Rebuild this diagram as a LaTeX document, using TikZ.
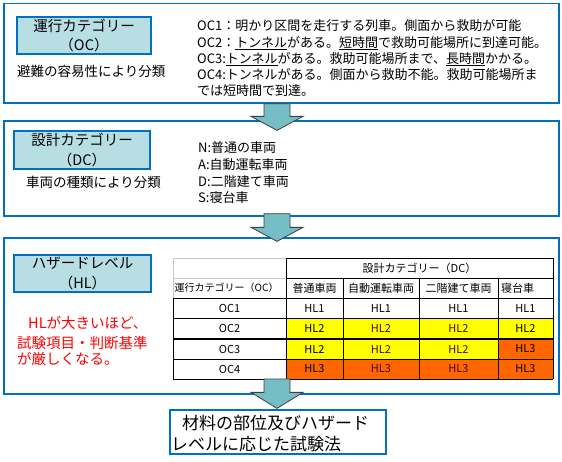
\documentclass[tikz,border=0pt]{standalone}
\usepackage{fontspec}
\setmainfont{Noto Sans CJK JP}
\usetikzlibrary{calc}
\definecolor{boxblue}{HTML}{0070C0}
\definecolor{labelfill}{HTML}{B7DEE3}
\definecolor{arrowfill}{HTML}{75BEC5}
\definecolor{arrowline}{HTML}{3F3F3F}
\definecolor{hlyellow}{HTML}{FFFF00}
\definecolor{hlorange}{HTML}{FF6600}
\definecolor{hlred}{HTML}{4A0808}
\newcommand\fatarrow[3]{%
  \path[fatarrowstyle] let \p1=(#1), \p2=(#2) in
    (\x1-13pt,\y1) -- (\x1+13pt,\y1) -- (\x1+13pt,\y2+#3) -- (\x1+26pt,\y2+#3)
    -- (\x1,\y2) -- (\x1-26pt,\y2+#3) -- (\x1-13pt,\y2+#3) -- cycle;}
\begin{document}
\begin{tikzpicture}[x=1pt,y=-1pt,
  panel/.style={draw=boxblue, line width=1.3pt, fill=white, inner sep=0pt},
  catlabel/.style={draw=boxblue, line width=1.1pt, fill=labelfill, inner sep=0pt, align=center, font=\fontsize{14.5}{19.5}\selectfont},
  bodytext/.style={anchor=base west, inner sep=0pt, font=\fontsize{13}{16}\selectfont},
  redtext/.style={anchor=base west, inner sep=0pt, text=red, font=\fontsize{14.5}{18}\selectfont},
  tcell/.style={inner sep=0pt, font=\fontsize{11}{13}\selectfont},
  gridline/.style={draw=black, line width=0.8pt},
  lightgrid/.style={draw=black!22, line width=0.8pt},
  fatarrowstyle/.style={draw=arrowline, fill=arrowfill, line width=0.8pt, line join=miter},
  finaltext/.style={anchor=base west, inner sep=0pt, font=\fontsize{17}{20}\selectfont},
]
\useasboundingbox (0,0) rectangle (562,461);
\fill[white] (0,0) rectangle (562,461);

% panels
\node[panel, minimum width=555pt, minimum height=99.5pt] (ocpanel) at (281.5,53.25) {};
\node[panel, minimum width=555pt, minimum height=95pt] (dcpanel) at (281.5,168.5) {};
\node[panel, minimum width=555pt, minimum height=156pt] (hlpanel) at (281.5,316) {};
\node[panel, minimum width=216pt, minimum height=44pt] (final) at (278,432) {};

% OC section
\node[catlabel, minimum width=134pt, minimum height=37pt] (oclabel) at (84,35.5) {運行カテゴリー\\（OC）};
\node[bodytext, font=\fontsize{13.5}{16}\selectfont] (ocsub) at (17,76) {避難の容易性により分類};
\node[bodytext] (oc1) at (197,30.5) {OC1：明かり区間を走行する列車。側面から救助が可能};
\node[bodytext] (oc2) at (197,47) {OC2：\underline{トンネル}がある。\underline{短時間}で救助可能場所に到達可能。};
\node[bodytext] (oc3) at (197,63) {OC3:\underline{トンネル}がある。救助可能場所まで、\underline{長時間}かかる。};
\node[bodytext] (oc4) at (197,79) {OC4:トンネルがある。側面から救助不能。救助可能場所ま};
\node[bodytext] (oc5) at (197,95) {では短時間で到達。};

% DC section
\node[catlabel, minimum width=136pt, minimum height=38pt] (dclabel) at (82,150) {設計カテゴリー\\（DC）};
\node[bodytext, font=\fontsize{13.5}{16}\selectfont] (dcsub) at (26,187) {車両の種類により分類};
\node[bodytext] (dcn) at (198,152) {N:普通の車両};
\node[bodytext] (dca) at (198,169) {A:自動運転車両};
\node[bodytext] (dcd) at (198,186) {D:二階建て車両};
\node[bodytext] (dcs) at (198,202) {S:寝台車};

% HL section
\node[catlabel, minimum width=137pt, minimum height=37pt] (hllabel) at (82.5,273.5) {ハザードレベル\\（HL）};
\node[redtext] (red1) at (28,328.5) {HLが大きいほど、};
\node[redtext] (red2) at (17,348.5) {試験項目・判断基準};
\node[redtext] (red3) at (17,364.5) {が厳しくなる。};

% table fills
\fill[hlyellow] (286,318) rectangle (553,339);
\fill[hlyellow] (286,339) rectangle (498,359);
\fill[hlorange] (498,339) rectangle (553,359);
\fill[hlorange] (286,359) rectangle (553,379);
% table grid
\draw[lightgrid] (173,258) -- (286,258);
\draw[lightgrid] (173,258) -- (173,298);
\draw[lightgrid] (173,278) -- (286,278);
\draw[gridline] (286,258) -- (553,258);
\draw[gridline] (286,278) -- (553,278);
\draw[gridline] (173,298) -- (553,298);
\draw[gridline] (173,318) -- (553,318);
\draw[gridline] (173,359) -- (553,359);
\draw[gridline] (173,379) -- (553,379);
\draw[draw=black, line width=2pt] (173,339) -- (553,339);
\draw[gridline] (173,298) -- (173,379);
\draw[gridline] (286,258) -- (286,379);
\draw[gridline] (343,278) -- (343,379);
\draw[gridline] (419,278) -- (419,379);
\draw[gridline] (498,278) -- (498,379);
\draw[gridline] (553,258) -- (553,379);
\coordinate (tbot) at (229.5,379);

% table texts
\node[tcell] (dchead) at (419.5,268) {設計カテゴリー（DC）};
\node[tcell, anchor=west, font=\fontsize{10}{12}\selectfont] (ochead) at (174.5,288) {運行カテゴリー（OC）};
\node[tcell] (hN) at (314.5,288) {普通車両};
\node[tcell] (hA) at (381,288) {自動運転車両};
\node[tcell] (hD) at (458.5,288) {二階建て車両};
\node[tcell, anchor=west] (hS) at (501,288) {寝台車};
\node[tcell] (r1) at (229.5,308) {OC1};
\node[tcell] (r2) at (229.5,328.5) {OC2};
\node[tcell] (r3) at (229.5,349) {OC3};
\node[tcell] (r4) at (229.5,369) {OC4};
\node[tcell] (c11) at (314.5,308) {HL1};
\node[tcell] (c12) at (381,308) {HL1};
\node[tcell] (c13) at (458.5,308) {HL1};
\node[tcell] (c14) at (525.5,308) {HL1};
\node[tcell] (c21) at (314.5,328.5) {HL2};
\node[tcell, text=hlred] (c22) at (381,328.5) {HL2};
\node[tcell, text=hlred] (c23) at (458.5,328.5) {HL2};
\node[tcell] (c24) at (525.5,328.5) {HL2};
\node[tcell] (c31) at (314.5,349) {HL2};
\node[tcell, text=hlred] (c32) at (381,349) {HL2};
\node[tcell, text=hlred] (c33) at (458.5,349) {HL2};
\node[tcell] (c34) at (525.5,349) {HL3};
\node[tcell] (c41) at (314.5,369) {HL3};
\node[tcell, text=hlred] (c42) at (381,369) {HL3};
\node[tcell, text=hlred] (c43) at (458.5,369) {HL3};
\node[tcell] (c44) at (525.5,369) {HL3};

% final box text
\node[finaltext] (fin1) at (182,429.5) {材料の部位及びハザード};
\node[finaltext] (fin2) at (171,450.5) {レベルに応じた試験法};

% arrows
\coordinate (axis) at (277,0);
\coordinate (a1s) at (ocpanel.south -| axis);
\coordinate (a1e) at ($(dcpanel.north -| axis)+(0,10)$);
\coordinate (a2s) at ($(dcpanel.south -| axis)+(0,-3)$);
\coordinate (a2e) at ($(hlpanel.north -| axis)+(0,4)$);
\coordinate (a3s) at (tbot -| axis);
\coordinate (a3e) at ($(final.north -| axis)+(0,-1)$);
\fatarrow{a1s}{a1e}{14pt}
\fatarrow{a2s}{a2e}{14pt}
\fatarrow{a3s}{a3e}{16pt}
\end{tikzpicture}
\end{document}
